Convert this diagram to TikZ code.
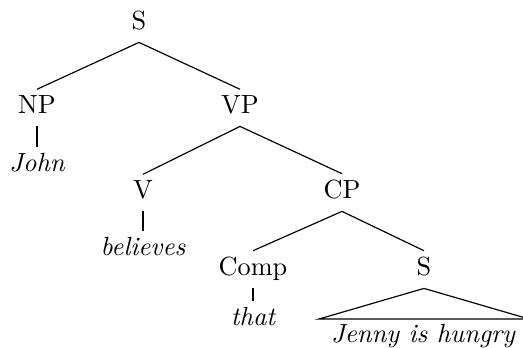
\documentclass[tikz,border=0pt]{standalone}
\begin{document}
\begin{tikzpicture}[x=0.01338cm, y=-0.01338cm,
    cat/.style={inner sep=2pt, text depth=2.9pt, anchor=base},
    word/.style={inner sep=2pt, text depth=2.9pt, anchor=base, font=\itshape},
    branch/.style={line width=0.45pt}]
    \useasboundingbox (0,0) rectangle (523,347);

    % Categories (placed at their baselines)
    \node[cat] (s1) at (139,29) {S};
    \node[cat] (np) at (37,113) {NP};
    \node[cat] (vp) at (240,113) {VP};
    \node[cat] (v) at (143,198) {V};
    \node[cat] (cp) at (342,198) {CP};
    \node[cat] (comp) at (253,275) {Comp};
    \node[cat] (s2) at (424,275) {S};

    % Words
    \node[word] (john) at (37,171) {John};
    \node[word] (believes) at (143,255) {believes};
    \node[word] (that) at (253,325) {that};
    \node[word] (jenny) at (423,342) {Jenny is hungry};

    % Branches
    \draw[branch] (s1.south) -- (np.north);
    \draw[branch] (s1.south) -- (vp.north);
    \draw[branch] (np.south) -- (john.north);
    \draw[branch] (vp.south) -- (v.north);
    \draw[branch] (vp.south) -- (cp.north);
    \draw[branch] (v.south) -- (believes.north);
    \draw[branch] (cp.south) -- (comp.north);
    \draw[branch] (cp.south) -- (s2.north);
    \draw[branch] (comp.south) -- (that.north);

    % Roof over the lower S
    \coordinate (roofl) at (319,319);
    \coordinate (roofr) at (529,319);
    \draw[branch] (s2.south) -- (roofl) -- (roofr) -- cycle;
\end{tikzpicture}
\end{document}
